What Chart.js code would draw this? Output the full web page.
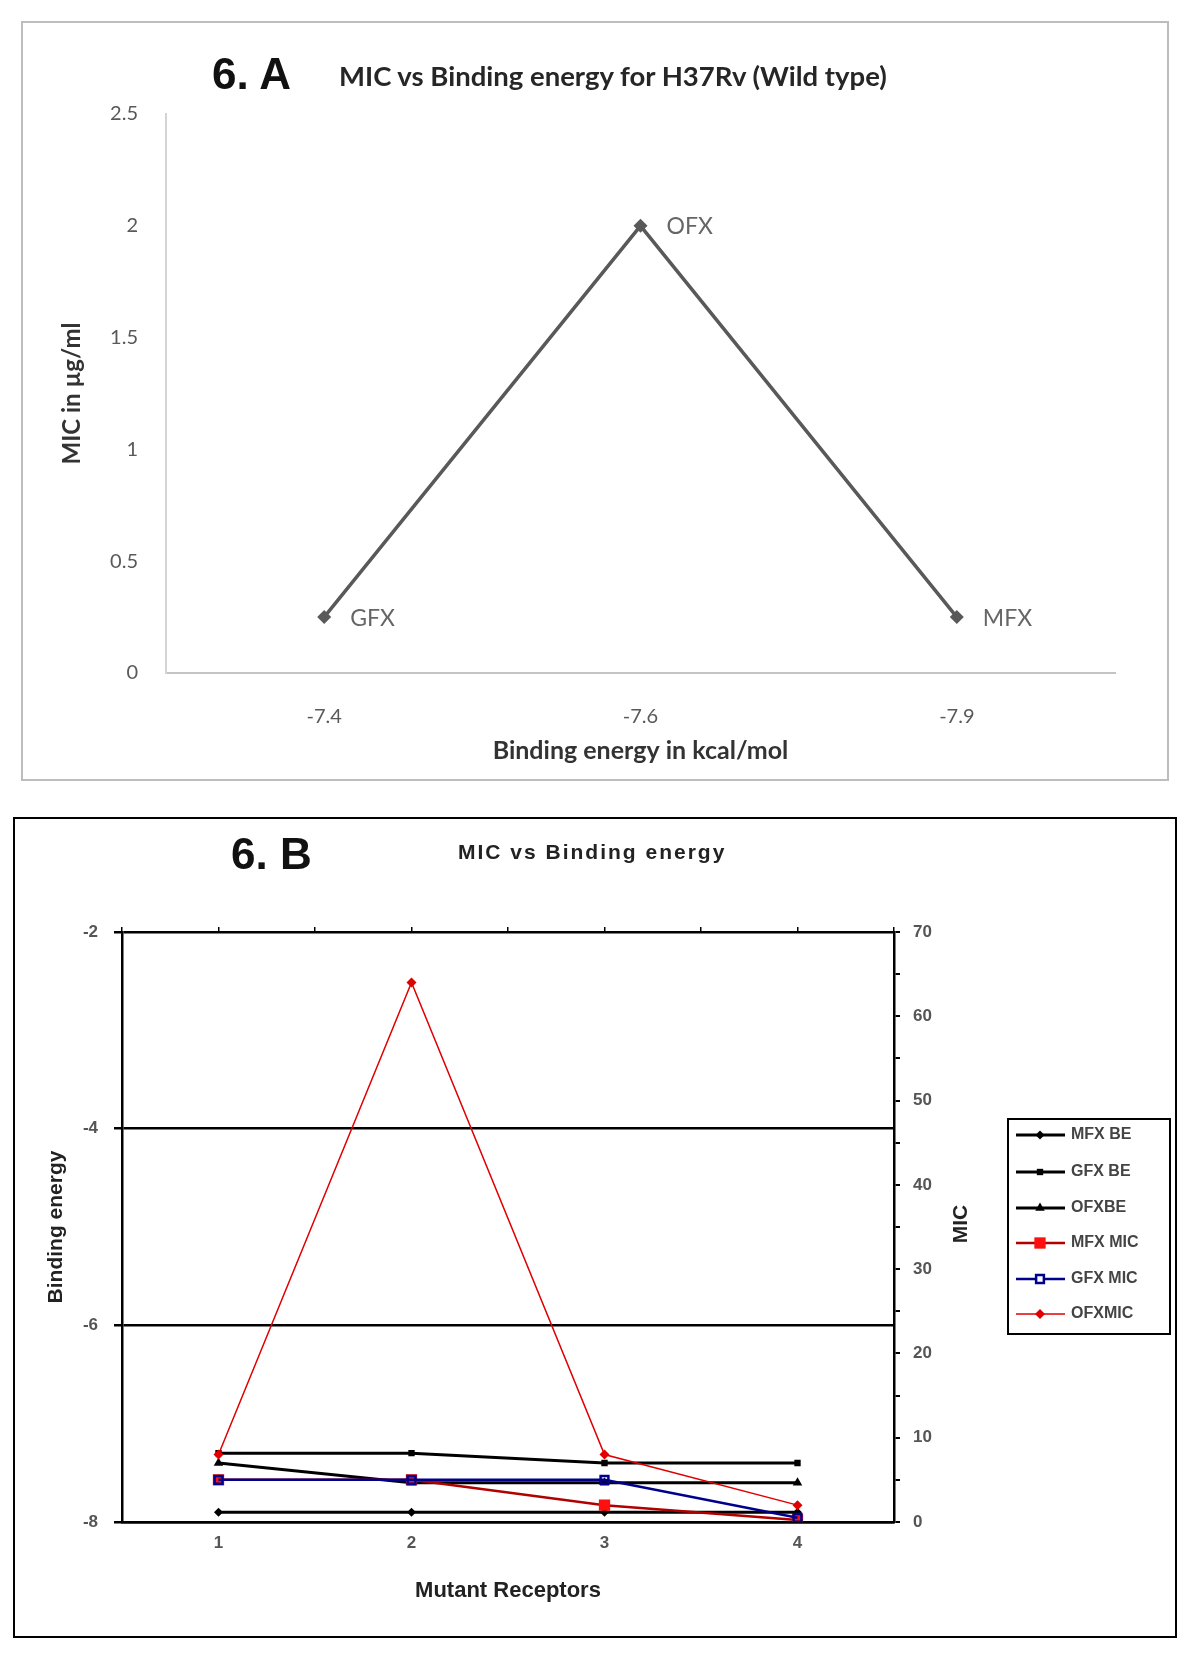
<!DOCTYPE html>
<html>
<head>
<meta charset="utf-8">
<script src="https://cdn.jsdelivr.net/npm/chart.js@4.4.0/dist/chart.umd.min.js"></script>
<style>
  body { margin: 0; width: 1200px; height: 1662px; background: #fff; position: relative; overflow: hidden; }
  .frame { position: absolute; box-sizing: border-box; }
  #frameA { left: 21px; top: 21px; width: 1148px; height: 760px; border: 2px solid #bdbdbd; }
  #frameB { left: 13px; top: 817px; width: 1164px; height: 821px; border: 2px solid #000; }
  .wrap { position: absolute; left: 0; }
  .lbl { position: absolute; white-space: nowrap; line-height: 1; transform: translateY(-50%); }
</style>
</head>
<body>
<div class="frame" id="frameA"></div>
<div class="frame" id="frameB"></div>

<div class="wrap" style="top:0"><canvas id="chartA" width="1200" height="800"></canvas></div>
<div class="wrap" style="top:800px"><canvas id="chartB" width="1200" height="862"></canvas></div>

<div class="lbl" style="left:212px;top:74px;font:bold 44px 'Liberation Sans';color:#111">6. A</div>
<div class="lbl" style="left:339px;top:75px;font:bold 27.5px Lato;color:#262626">MIC vs Binding energy for H37Rv (Wild type)</div>
<div class="lbl" style="left:231px;top:854px;font:bold 44px 'Liberation Sans';color:#111">6. B</div>
<div class="lbl" style="left:458px;top:852px;font:bold 21px 'Liberation Sans';letter-spacing:2px;color:#222">MIC vs Binding energy</div>

<script>
// 6.A - wild type
const wildEnergy = ['-7.4', '-7.6', '-7.9'];
const wildDrugs = ['GFX', 'OFX', 'MFX'];
const wildMic = [0.25, 2, 0.25];

// 6.B - mutant receptors
const receptors = ['1', '2', '3', '4'];
const mfxBE = [-7.9, -7.9, -7.9, -7.9];
const gfxBE = [-7.3, -7.3, -7.4, -7.4];
const ofxBE = [-7.4, -7.6, -7.6, -7.6];
const mfxMIC = [5, 5, 2, 0.25];
const gfxMIC = [5, 5, 5, 0.5];
const ofxMIC = [8, 64, 8, 2];

const grey = '#595959';

// labels next to the points of chart A
const pointNames = {
  id: 'pointNames',
  afterDatasetsDraw(chart) {
    const ctx = chart.ctx;
    const pts = chart.getDatasetMeta(0).data;
    ctx.save();
    ctx.font = '23px Lato';
    ctx.fillStyle = '#666';
    ctx.textBaseline = 'middle';
    pts.forEach((p, i) => ctx.fillText(wildDrugs[i], p.x + 26, p.y + 1));
    ctx.restore();
  }
};

new Chart(document.getElementById('chartA'), {
  type: 'line',
  data: {
    labels: wildEnergy,
    datasets: [{
      data: wildMic,
      borderColor: grey,
      backgroundColor: grey,
      borderWidth: 3.5,
      pointStyle: 'rectRot',
      pointRadius: 7,
      pointBorderWidth: 0,
      tension: 0
    }]
  },
  options: {
    responsive: false,
    animation: false,
    layout: { padding: { left: 54, right: 85, top: 114, bottom: 30 } },
    plugins: { legend: { display: false }, tooltip: { enabled: false } },
    scales: {
      x: {
        offset: true,
        grid: { display: false, tickLength: 0 },
        border: { display: true, color: '#c4c4c4', width: 2 },
        ticks: { color: grey, font: { family: 'Lato', size: 20 }, padding: 32 },
        title: { display: true, text: 'Binding energy in kcal/mol', color: '#333', font: { family: 'Lato', size: 25, weight: 'bold' } },
        afterFit: (s) => { s.height = 97; }
      },
      y: {
        min: 0, max: 2.5,
        ticks: { stepSize: 0.5, color: grey, font: { family: 'Lato', size: 20 }, padding: 28, callback: (v) => String(v) },
        grid: { display: false, tickLength: 0 },
        border: { display: true, color: '#d4d4d4', width: 2 },
        title: { display: true, text: 'MIC in µg/ml', color: '#333', font: { family: 'Lato', size: 24, weight: 'bold' } },
        afterFit: (s) => { s.width = 112; }
      }
    }
  },
  plugins: [pointNames]
});

// boxed legend and right title of chart B
const boxLegend = {
  id: 'boxLegend',
  afterDraw(chart) {
    const ctx = chart.ctx;
    const h = Chart.helpers;
    ctx.save();
    ctx.lineWidth = 2;
    ctx.strokeStyle = '#000';
    ctx.strokeRect(1008, 319, 162, 215);
    const rows = [335, 372, 408, 443, 479, 514];
    chart.data.datasets.forEach((ds, i) => {
      const y = rows[i];
      ctx.strokeStyle = ds.borderColor;
      ctx.lineWidth = ds.borderWidth;
      ctx.beginPath();
      ctx.moveTo(1016, y);
      ctx.lineTo(1065, y);
      ctx.stroke();
      ctx.fillStyle = ds.pointBackgroundColor === 'rgba(255,255,255,0)' ? '#fff' : ds.pointBackgroundColor;
      ctx.strokeStyle = ds.pointBorderColor;
      ctx.lineWidth = ds.pointBorderWidth;
      h.drawPoint(ctx, { pointStyle: ds.pointStyle, rotation: 0, radius: ds.pointRadius, borderWidth: ds.pointBorderWidth }, 1040, y);
      ctx.fillStyle = '#444';
      ctx.font = 'bold 16px "Liberation Sans"';
      ctx.textBaseline = 'middle';
      ctx.fillText(ds.label, 1071, y);
    });
    ctx.translate(961, 424);
    ctx.rotate(-Math.PI / 2);
    ctx.textAlign = 'center';
    ctx.fillStyle = '#222';
    ctx.font = 'bold 21px "Liberation Sans"';
    ctx.fillText('MIC', 0, 0);
    ctx.restore();
  }
};

function series(label, data, axis, color, style, radius, width, fill, edge, order) {
  return {
    label: label,
    data: data,
    yAxisID: axis,
    borderColor: color,
    borderWidth: width,
    pointStyle: style,
    pointRadius: radius,
    pointBackgroundColor: fill,
    pointBorderColor: color,
    pointBorderWidth: edge,
    order: order,
    tension: 0
  };
}

new Chart(document.getElementById('chartB'), {
  type: 'line',
  data: {
    labels: receptors,
    datasets: [
      series('MFX BE', mfxBE, 'y', '#000', 'rectRot', 4.5, 3, '#000', 0, 2),
      series('GFX BE', gfxBE, 'y', '#000', 'rect', 4.5, 3, '#000', 0, 2),
      series('OFXBE', ofxBE, 'y', '#000', 'triangle', 5.5, 3, '#000', 0, 2),
      series('MFX MIC', mfxMIC, 'y2', '#b00000', 'rect', 8, 2.5, '#ff1010', 0, 1),
      series('GFX MIC', gfxMIC, 'y2', '#00008b', 'rect', 5.5, 2.5, 'rgba(255,255,255,0)', 2.5, 0),
      series('OFXMIC', ofxMIC, 'y2', '#e00000', 'rectRot', 5, 1.5, '#e00000', 0, 1)
    ]
  },
  options: {
    responsive: false,
    animation: false,
    layout: { padding: { left: 40, right: 256, top: 126, bottom: 54 } },
    plugins: { legend: { display: false }, tooltip: { enabled: false } },
    scales: {
      x: {
        offset: true,
        grid: { display: false, tickLength: 0 },
        border: { display: true, color: '#000', width: 2.5 },
        ticks: { color: '#555', font: { family: 'Liberation Sans', size: 17, weight: 'bold' }, padding: 11 },
        title: { display: true, text: 'Mutant Receptors', color: '#222', font: { family: 'Liberation Sans', size: 22, weight: 'bold' } },
        afterFit: (s) => { s.height = 86; }
      },
      x2: {
        type: 'linear',
        position: 'top',
        min: 0.5, max: 4.5,
        ticks: { display: false, stepSize: 0.5 },
        grid: { drawOnChartArea: false, color: '#000', lineWidth: 1.5, tickLength: 5 },
        border: { display: false },
        afterFit: (s) => { s.height = 6; }
      },
      y: {
        position: 'left',
        min: -8, max: -2,
        ticks: { stepSize: 2, color: '#555', font: { family: 'Liberation Sans', size: 17, weight: 'bold' }, padding: 16 },
        grid: { color: '#000', lineWidth: 2.5, tickLength: 8 },
        border: { display: true, color: '#000', width: 2.5 },
        title: { display: true, text: 'Binding energy', color: '#222', font: { family: 'Liberation Sans', size: 21, weight: 'bold' } },
        afterFit: (s) => { s.width = 82; }
      },
      y2: {
        position: 'right',
        min: 0, max: 70,
        ticks: {
          stepSize: 5,
          color: '#555',
          font: { family: 'Liberation Sans', size: 17, weight: 'bold' },
          padding: 13,
          callback: (v) => (v % 10 === 0 ? v : '')
        },
        grid: { drawOnChartArea: false, color: '#000', lineWidth: 2, tickLength: 6 },
        border: { display: true, color: '#000', width: 2.5 },
        afterFit: (s) => { s.width = 50; }
      }
    }
  },
  plugins: [boxLegend]
});
</script>
</body>
</html>
